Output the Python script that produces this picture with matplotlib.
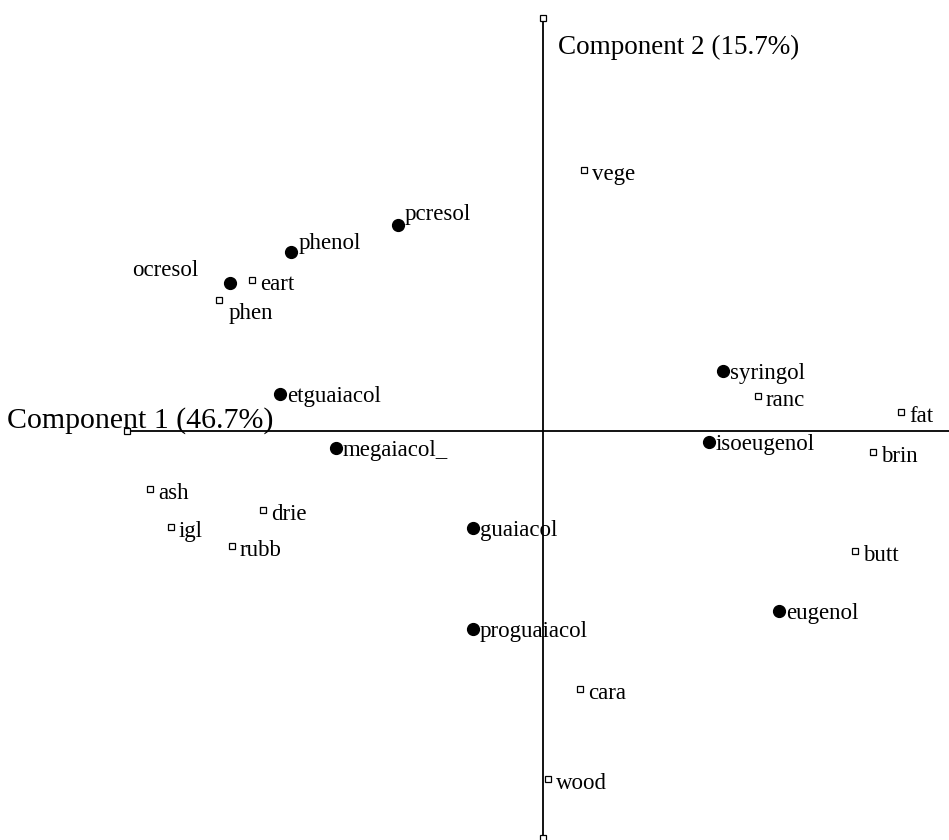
import matplotlib
matplotlib.use("Agg")
import matplotlib.pyplot as plt

plt.rcParams['font.family'] = ['Liberation Serif', 'DejaVu Serif']

# variáveis (círculos cheios) - scores nos componentes 1 e 2
compostos = ['ocresol', 'phenol', 'pcresol', 'etguaiacol', 'megaiacol_',
             'guaiacol', 'proguaiacol', 'syringol', 'isoeugenol', 'eugenol']
comp_x = [-3.13, -2.52, -1.45, -2.63, -2.07, -0.70, -0.70, 1.80, 1.66, 2.36]
comp_y = [1.48, 1.79, 2.06, 0.37, -0.17, -0.97, -1.98, 0.60, -0.11, -1.80]

# descritores sensoriais (quadrados abertos)
descritores = ['vege', 'eart', 'phen', 'ranc', 'fat', 'brin', 'ash', 'igl',
               'drie', 'rubb', 'butt', 'cara', 'wood']
desc_x = [0.41, -2.91, -3.24, 2.15, 3.58, 3.30, -3.93, -3.72, -2.80, -3.11, 3.12, 0.37, 0.05]
desc_y = [2.61, 1.51, 1.31, 0.35, 0.19, -0.21, -0.58, -0.96, -0.79, -1.15, -1.20, -2.58, -3.48]

# extremos dos eixos
eixo_x = [-4.16, 4.40]
eixo_y = [-4.07, 4.13]

# deslocamentos especiais dos rótulos (pixels)
desloc = {'phenol': (8, 11, 'left'), 'pcresol': (7, 13, 'left'),
          'ocresol': (-32, 15, 'right'), 'phen': (10, -11, 'left')}

fig = plt.figure(figsize=(9.49, 8.4), dpi=100)
ax = fig.add_axes([0, 0, 1, 1])
ax.set_xlim(-5.43, 4.06)
ax.set_ylim(-4.09, 4.31)
ax.axis('off')

# eixos
ax.plot(eixo_x, [0, 0], color='black', lw=1.3, zorder=1)
ax.plot([0, 0], eixo_y, color='black', lw=1.3, zorder=1)
ax.plot([eixo_x[0], 0, 0], [0, eixo_y[0], eixo_y[1]], 's', ms=5, mfc='white',
        mec='black', mew=0.9, zorder=2)

ax.text(-5.36, 0.03, 'Component 1 (46.7%)', fontsize=21.5, va='baseline')
ax.text(0.15, 3.84, 'Component 2 (15.7%)', fontsize=19.5, va='center')

ax.plot(comp_x, comp_y, 'o', ms=8.5, color='black', zorder=3)
ax.plot(desc_x, desc_y, 's', ms=5, mfc='white', mec='black', mew=0.9, zorder=3)

for nome, x, y in zip(compostos, comp_x, comp_y):
    dx, dy, ha = desloc.get(nome, (7, 0, 'left'))
    ax.annotate(nome, (x, y), xytext=(dx, dy), textcoords='offset pixels',
                fontsize=16.5, ha=ha, va='center_baseline')

for nome, x, y in zip(descritores, desc_x, desc_y):
    dx, dy, ha = desloc.get(nome, (8, -2, 'left'))
    ax.annotate(nome, (x, y), xytext=(dx, dy), textcoords='offset pixels',
                fontsize=16.5, ha=ha, va='center_baseline')

fig.savefig('out.png', dpi=100)
